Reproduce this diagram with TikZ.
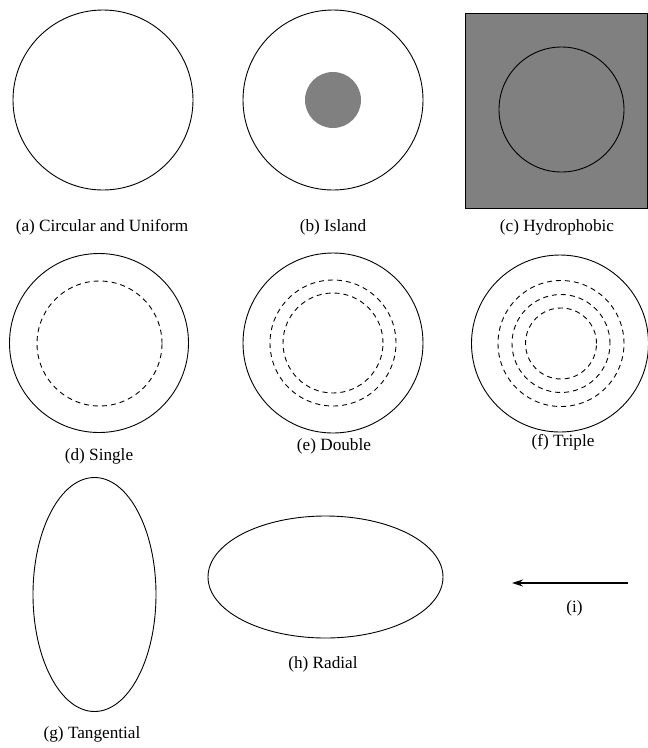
\documentclass[tikz,border=0pt]{standalone}
\usepackage{fontspec}
\setmainfont{Liberation Serif}
\usetikzlibrary{shapes.geometric,arrows.meta}
\begin{document}
\begin{tikzpicture}[x=1pt,y=-1pt,line width=0.9pt,
  disc/.style={circle,draw,inner sep=0pt,minimum size=#1},
  dring/.style={circle,draw,dash pattern=on 5pt off 4pt,inner sep=0pt,minimum size=#1},
  oval/.style args={#1x#2}{ellipse,draw,inner sep=0pt,minimum width=#1,minimum height=#2},
  caption/.style={anchor=base,inner sep=0pt,font=\fontsize{17.2pt}{20pt}\selectfont},
  greyfill/.style={fill=black!50}]
\useasboundingbox (0,0) rectangle (648,748);
% (a)
\node[disc=180pt] (ca) at (103,100) {};
\node[caption] (la) at (102,231) {(a) Circular and Uniform};
% (b)
\node[disc=180pt] (cb) at (333,100) {};
\node[circle,greyfill,inner sep=0pt,minimum size=56pt] (isl) at (333,100) {};
\node[caption] (lb) at (333,231) {(b) Island};
% (c)
\node[rectangle,draw,greyfill,inner sep=0pt,minimum width=182pt,minimum height=195pt] (sq) at (556,110.5) {};
\node[disc=125pt] (cc) at (561.5,109.5) {};
\node[caption] (lc) at (557,231) {(c) Hydrophobic};
% (d)
\node[disc=179pt] (cd) at (99,343) {};
\node[dring=125pt] (dd1) at (99.5,343.5) {};
\node[caption] (ld) at (99,460) {(d) Single};
% (e)
\node[disc=180pt] (ce) at (333,343) {};
\node[dring=126pt] (de1) at (333,343) {};
\node[dring=100pt] (de2) at (333,343) {};
\node[caption] (le) at (334,450) {(e) Double};
% (f)
\node[disc=177pt] (cf) at (560,343.5) {};
\node[dring=126pt] (df1) at (561,343.5) {};
\node[dring=98pt] (df2) at (561,343.5) {};
\node[dring=71pt] (df3) at (561,343.5) {};
\node[caption] (lf) at (563,446) {(f) Triple};
% (g)
\node[oval=123ptx234pt] (eg) at (94.5,594.5) {};
\node[caption] (lg) at (92,738) {(g) Tangential};
% (h)
\node[oval=235ptx122pt] (eh) at (325.5,577) {};
\node[caption] (lh) at (323,668) {(h) Radial};
% (i)
\coordinate (istart) at (628,583);
\coordinate (iend) at (512,583);
\draw[line width=1.2pt,-{Stealth[length=11pt,width=7pt]}] (istart) -- (iend);
\node[caption] (li) at (574.5,612) {(i)};
\end{tikzpicture}
\end{document}
